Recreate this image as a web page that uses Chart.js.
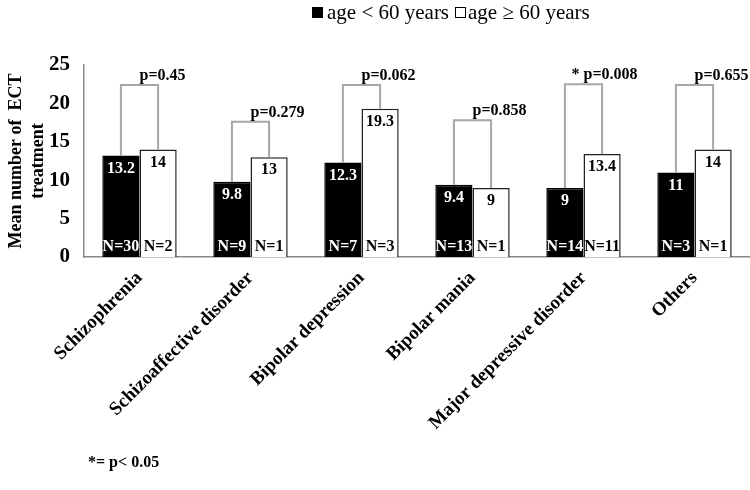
<!DOCTYPE html>
<html><head><meta charset="utf-8">
<script src="https://cdn.jsdelivr.net/npm/chart.js@4"></script>
<style>html,body{margin:0;padding:0;background:#fff}#wrap{width:750px;height:490px;position:relative}</style>
</head><body><div id="wrap"><canvas id="c"></canvas></div>
<script>
const categories = ['Schizophrenia', 'Schizoaffective disorder', 'Bipolar depression', 'Bipolar mania', 'Major depressive disorder', 'Others'];
const seriesNames = ['age < 60 years', 'age \u2265 60 years'];
const youngMeans = [13.2, 9.8, 12.3, 9.4, 9, 11];
const oldMeans = [14, 13, 19.3, 9, 13.4, 14];
const youngN = [30, 9, 7, 13, 14, 3];
const oldN = [2, 1, 3, 1, 11, 1];
const pValues = ['0.45', '0.279', '0.062', '0.858', '0.008', '0.655'];
const significant = [false, false, false, false, true, false];
const bracketTops = [22.4, 17.6, 22.4, 17.8, 22.5, 22.4];
const yTicks = [0, 5, 10, 15, 20, 25];
const footnote = '*= p< 0.05';

const FONT = "'Liberation Serif', 'Times New Roman', serif";

const overlay = {
  id: 'overlay',
  afterDatasetsDraw(chart) {
    const ctx = chart.ctx;
    const ys = chart.scales.y;
    const m0 = chart.getDatasetMeta(0), m1 = chart.getDatasetMeta(1);
    const nLists = [youngN, oldN];
    const valLists = [youngMeans, oldMeans];
    ctx.save();
    categories.forEach((c, i) => {
      const b0 = m0.data[i], b1 = m1.data[i];
      const yt = ys.getPixelForValue(bracketTops[i]);
      ctx.strokeStyle = '#a6a6a6'; ctx.lineWidth = 2;
      ctx.beginPath();
      ctx.moveTo(b0.x, b0.y); ctx.lineTo(b0.x, yt); ctx.lineTo(b1.x, yt); ctx.lineTo(b1.x, b1.y);
      ctx.stroke();
      const mid = (b0.x + b1.x) / 2;
      ctx.font = 'bold 16px ' + FONT; ctx.fillStyle = '#000';
      ctx.textBaseline = 'alphabetic'; ctx.textAlign = 'left';
      ctx.fillText('p=' + pValues[i], mid, yt - 5);
      if (significant[i]) { ctx.textAlign = 'right'; ctx.fillText('* ', mid, yt - 5); }
      [m0, m1].forEach((m, d) => {
        const b = m.data[i];
        ctx.fillStyle = d === 0 ? '#fff' : '#000';
        ctx.textAlign = 'center'; ctx.textBaseline = 'middle';
        ctx.font = 'bold 16px ' + FONT;
        ctx.fillText(String(valLists[d][i]), b.x, b.y + 13);
        ctx.fillText('N=' + nLists[d][i], b.x, ys.getPixelForValue(0) - 10);
      });
    });
    // legend
    ctx.font = '21px ' + FONT; ctx.textAlign = 'left'; ctx.textBaseline = 'alphabetic';
    ctx.fillStyle = '#000'; ctx.fillRect(312, 7, 11, 11);
    ctx.fillText(seriesNames[0], 327, 19);
    ctx.strokeStyle = '#000'; ctx.lineWidth = 1; ctx.strokeRect(455.5, 7.5, 10, 10);
    ctx.fillText(seriesNames[1], 468, 19);
    // footnote
    ctx.font = 'bold 16px ' + FONT;
    ctx.fillText(footnote, 88, 467);
    ctx.restore();
  }
};

new Chart(document.getElementById('c'), {
  type: 'bar',
  data: {
    labels: categories,
    datasets: [
      { label: seriesNames[0], data: youngMeans, backgroundColor: '#000', borderColor: '#000', borderWidth: 1.5 },
      { label: seriesNames[1], data: oldMeans, backgroundColor: '#fff', borderColor: '#222', borderWidth: 1.5 }
    ]
  },
  options: {
    responsive: true, maintainAspectRatio: false, animation: false,
    devicePixelRatio: 1,
    layout: { padding: { top: 65, right: 0, left: 6, bottom: 0 } },
    categoryPercentage: 0.67, barPercentage: 1,
    plugins: { legend: { display: false }, tooltip: { enabled: false } },
    scales: {
      x: {
        grid: { display: false, drawTicks: false },
        border: { color: '#888', width: 1.5 },
        ticks: { color: '#000', font: { family: FONT, size: 19, weight: 'bold' }, minRotation: 45, maxRotation: 45, padding: 10 },
        afterFit(s) { s.height = 490 - 257; }
      },
      y: {
        min: 0, max: 25,
        grid: { display: false, drawTicks: false },
        border: { color: '#888', width: 1.5 },
        afterBuildTicks(s) { s.ticks = yTicks.map(v => ({ value: v })); },
        ticks: { color: '#000', font: { family: FONT, size: 21, weight: 'bold' }, padding: 14 },
        title: { display: true, text: ['Mean number of  ECT', 'treatment'], color: '#000', font: { family: FONT, size: 18, weight: 'bold' }, padding: 0 },
        afterFit(s) { s.width = 78; }
      }
    }
  },
  plugins: [overlay]
});
</script></body></html>
